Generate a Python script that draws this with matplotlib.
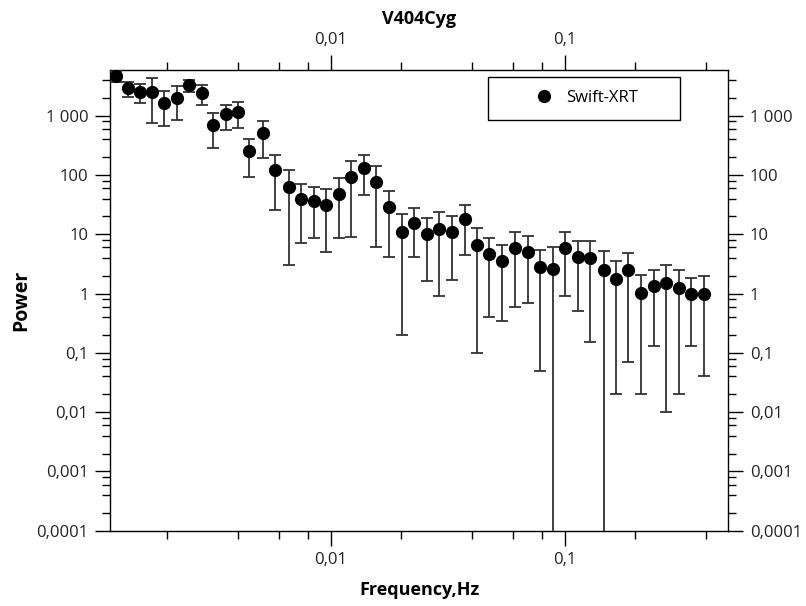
import matplotlib

matplotlib.use("Agg")
import matplotlib.pyplot as plt
from matplotlib.lines import Line2D
from matplotlib.patches import Rectangle
from matplotlib.ticker import FixedLocator, FixedFormatter, LogLocator, NullFormatter

# частоты (Гц), мощность и ошибки
freq = [0.001213, 0.001366, 0.001538, 0.001730, 0.001947, 0.002213, 0.002489, 0.002829,
        0.003153, 0.003584, 0.004033, 0.004493, 0.005141, 0.005802, 0.006614, 0.007494,
        0.008460, 0.009585, 0.01082, 0.01226, 0.01384, 0.01568, 0.01782, 0.02019,
        0.02279, 0.02582, 0.02914, 0.03303, 0.03763, 0.04222, 0.04767, 0.05416,
        0.06114, 0.06965, 0.07873, 0.08922, 0.1007, 0.1141, 0.1288, 0.1468,
        0.1659, 0.1867, 0.2121, 0.2401, 0.2713, 0.3069, 0.3469, 0.3926]
power = [4650, 2900, 2500, 2500, 1630, 1980, 3290, 2400,
         690, 1060, 1150, 251, 506, 121, 63, 39,
         36, 31, 48.6, 91, 132, 75, 28.7, 10.9,
         15.7, 10.2, 12.4, 10.9, 17.9, 6.5, 4.6, 3.5,
         5.8, 5.1, 2.75, 2.6, 5.9, 4.1, 3.95, 2.45,
         1.77, 2.45, 1.02, 1.33, 1.51, 1.24, 0.99, 0.99]
power_err = [1000, 800, 860, 1750, 970, 1130, 780, 880,
             400, 480, 530, 160, 310, 95, 60, 32,
             27.5, 26, 40, 82, 86, 69, 24.5, 10.7,
             11.5, 8.6, 11.5, 9.2, 13.5, 6.4, 4.2, 3.15,
             5.2, 4.4, 2.7, 3.6, 5.0, 3.6, 3.8, 2.8,
             1.75, 2.38, 1.0, 1.2, 1.5, 1.22, 0.86, 0.95]

x_ticks = [0.01, 0.1]
x_tick_labels = ["0,01", "0,1"]
y_ticks = [1e-4, 1e-3, 1e-2, 1e-1, 1, 10, 100, 1000]
y_tick_labels = ["0,0001", "0,001", "0,01", "0,1", "1", "10", "100", "1 000"]

plt.rcParams["font.family"] = ["Open Sans", "DejaVu Sans"]

fig = plt.figure(figsize=(8.06, 6.06), dpi=100)
ax = fig.add_axes([0.1365, 0.1243, 0.7671, 0.7602])

ax.errorbar(freq, power, yerr=power_err, fmt="o", color="black", markersize=8.5,
            ecolor="#333333", elinewidth=1.3, capsize=4.5, capthick=1.3, zorder=3)

ax.set_xscale("log")
ax.set_yscale("log")
ax.set_xlim(0.00114, 0.5)
ax.set_ylim(1e-4, 5900)

ax.xaxis.set_major_locator(FixedLocator(x_ticks))
ax.xaxis.set_major_formatter(FixedFormatter(x_tick_labels))
ax.xaxis.set_minor_locator(LogLocator(base=10, subs=[2, 4, 6, 8]))
ax.xaxis.set_minor_formatter(NullFormatter())
ax.yaxis.set_major_locator(FixedLocator(y_ticks))
ax.yaxis.set_major_formatter(FixedFormatter(y_tick_labels))
ax.yaxis.set_minor_locator(LogLocator(base=10, subs=[2, 4, 6, 8], numticks=20))
ax.yaxis.set_minor_formatter(NullFormatter())

ax.tick_params(which="both", direction="out", top=True, right=True,
               labeltop=True, labelright=True, labelsize=12, labelcolor="#222222", width=1.0)
ax.tick_params(which="major", length=10.5, pad=5)
ax.tick_params(which="minor", length=6)
for sp in ax.spines.values():
    sp.set_linewidth(1.0)

ax.set_title("V404Cyg", fontsize=13, fontweight="bold", pad=6)
ax.set_xlabel("Frequency,Hz", fontsize=13, fontweight="bold", labelpad=9)
ax.set_ylabel("Power", fontsize=14, fontweight="bold", labelpad=4)

# легенда: только маркер, рамка отдельным прямоугольником
ax.add_patch(Rectangle((0.611, 0.891), 0.311, 0.094, transform=ax.transAxes,
                       fill=False, edgecolor="black", linewidth=1.0, zorder=4))
handle = Line2D([], [], marker="o", linestyle="none", color="black", markersize=8.5)
ax.legend([handle], ["Swift-XRT"], loc="center left", bbox_to_anchor=(0.6755, 0.9386),
          frameon=False, borderpad=0, handlelength=1.0, handletextpad=0.8, fontsize=12)

fig.savefig("out.png", dpi=100)
